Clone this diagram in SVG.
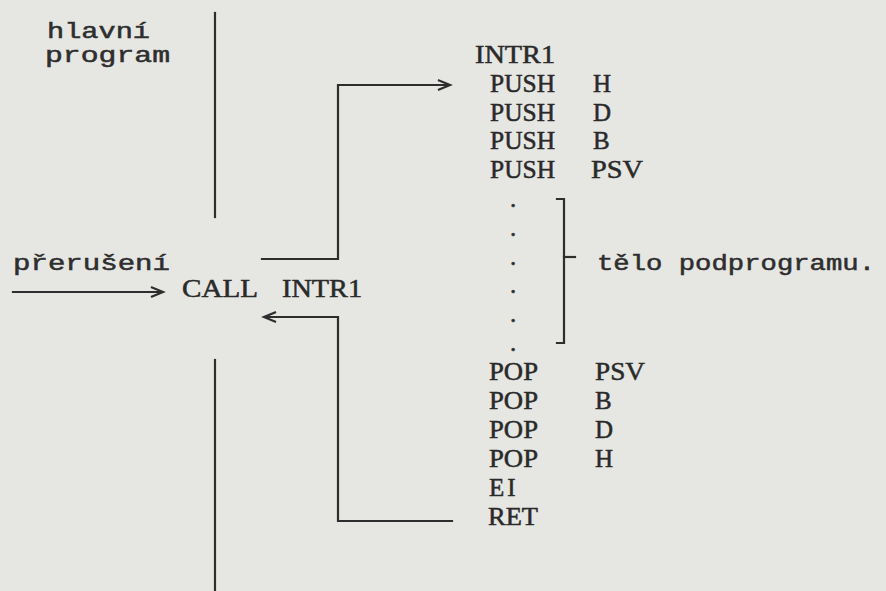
<svg xmlns="http://www.w3.org/2000/svg" width="886" height="591" viewBox="0 0 886 591">
  <style>
    .mono { font-family: "Liberation Mono", "DejaVu Sans Mono", monospace; font-size: 22px; fill: #2e2e2e; stroke: #2e2e2e; stroke-width: 0.5; }
    .serif { font-family: "Liberation Serif", "DejaVu Serif", serif; font-size: 25px; fill: #2a2a2a; stroke: #2a2a2a; stroke-width: 0.5; }
    .ln { fill: none; stroke: #2e2e2e; stroke-width: 2.2; stroke-linecap: square; }
  </style>
  <rect x="0" y="0" width="886" height="591" fill="#e6e6e3"/>

  <g id="main-program">
    <text class="mono" x="47" y="38" textLength="103" lengthAdjust="spacingAndGlyphs">hlavní</text>
    <text class="mono" x="45" y="62" textLength="125" lengthAdjust="spacingAndGlyphs">program</text>
    <line class="ln" x1="215" y1="13" x2="215" y2="217"/>
    <line class="ln" x1="215" y1="360" x2="215" y2="591"/>
  </g>

  <g id="interrupt">
    <text class="mono" x="13" y="270" textLength="157" lengthAdjust="spacingAndGlyphs">přerušení</text>
  </g>

  <g id="call">
    <text class="serif" x="182" y="297" textLength="76" lengthAdjust="spacingAndGlyphs">CALL</text>
    <text class="serif" x="282" y="297" textLength="80" lengthAdjust="spacingAndGlyphs">INTR1</text>
  </g>

  <g id="subroutine">
    <text class="serif" x="475" y="63" textLength="80" lengthAdjust="spacingAndGlyphs">INTR1</text>
    <text class="serif" x="490" y="92" textLength="65" lengthAdjust="spacingAndGlyphs">PUSH</text>
    <text class="serif" x="593" y="92">H</text>
    <text class="serif" x="490" y="121" textLength="65" lengthAdjust="spacingAndGlyphs">PUSH</text>
    <text class="serif" x="593" y="121">D</text>
    <text class="serif" x="490" y="149" textLength="65" lengthAdjust="spacingAndGlyphs">PUSH</text>
    <text class="serif" x="593" y="149">B</text>
    <text class="serif" x="490" y="178" textLength="65" lengthAdjust="spacingAndGlyphs">PUSH</text>
    <text class="serif" x="591" y="178" textLength="52" lengthAdjust="spacingAndGlyphs">PSV</text>
    <text class="serif" x="510" y="207">.</text>
    <text class="serif" x="510" y="236">.</text>
    <text class="serif" x="510" y="265">.</text>
    <text class="serif" x="510" y="293">.</text>
    <text class="serif" x="510" y="322">.</text>
    <text class="serif" x="510" y="351">.</text>
    <text class="serif" x="489" y="380" textLength="49" lengthAdjust="spacingAndGlyphs">POP</text>
    <text class="serif" x="595" y="380" textLength="50" lengthAdjust="spacingAndGlyphs">PSV</text>
    <text class="serif" x="489" y="409" textLength="49" lengthAdjust="spacingAndGlyphs">POP</text>
    <text class="serif" x="595" y="409">B</text>
    <text class="serif" x="489" y="438" textLength="49" lengthAdjust="spacingAndGlyphs">POP</text>
    <text class="serif" x="595" y="438">D</text>
    <text class="serif" x="489" y="467" textLength="49" lengthAdjust="spacingAndGlyphs">POP</text>
    <text class="serif" x="595" y="467">H</text>
    <text class="serif" x="489" y="496" letter-spacing="3">EI</text>
    <text class="serif" x="488" y="525" textLength="50" lengthAdjust="spacingAndGlyphs">RET</text>
  </g>

  <g id="body-bracket">
    <path class="ln" d="M557,199 H564 V343 H557"/>
    <line class="ln" x1="564" y1="257" x2="575" y2="257"/>
    <text class="mono" x="597" y="270" textLength="278" lengthAdjust="spacingAndGlyphs">tělo podprogramu.</text>
  </g>

  <g id="connectors">
    <path class="ln" d="M13,292 H161"/>
    <path class="ln" d="M152,287.5 L163,292 L152,296.5" stroke-linecap="round"/>
    <path class="ln" d="M262,259 H338 V85 H448"/>
    <path class="ln" d="M439,80.5 L450,85 L439,89.5" stroke-linecap="round"/>
    <path class="ln" d="M452,521 H338 V317 H265"/>
    <path class="ln" d="M275,312.5 L264,317 L275,321.5" stroke-linecap="round"/>
  </g>
</svg>
